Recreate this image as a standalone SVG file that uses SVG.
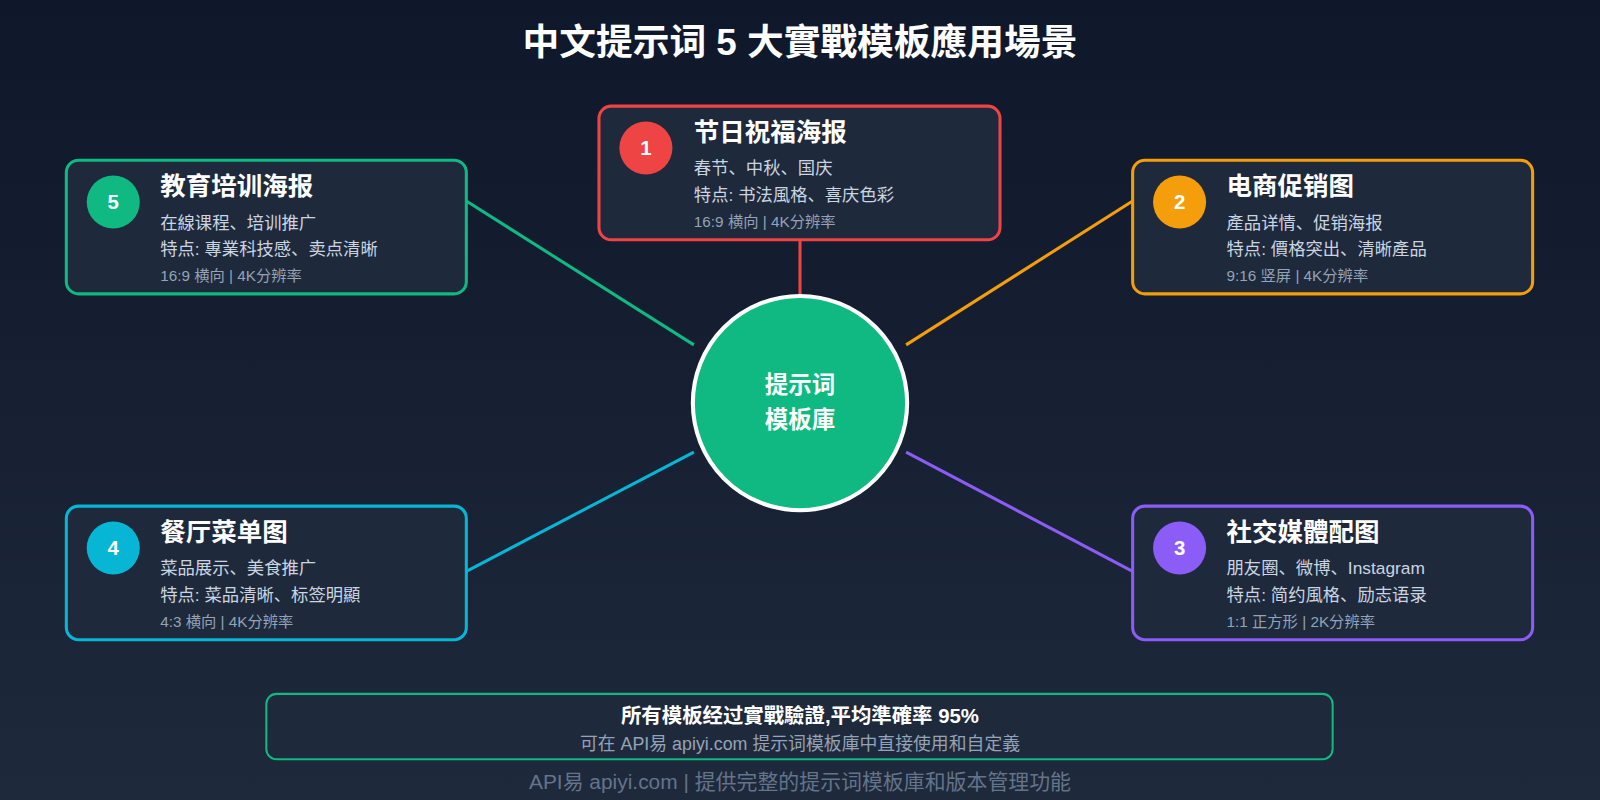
<svg xmlns="http://www.w3.org/2000/svg" width="1600" height="800" viewBox="0 0 1600 800">
<defs>
<linearGradient id="bg" x1="0" y1="0" x2="0" y2="1"><stop offset="0" stop-color="#0f172a"/><stop offset="1" stop-color="#1e293b"/></linearGradient>
<style>
text{font-family:"Liberation Sans","Noto Sans CJK SC",sans-serif}
.card{fill:#1e293b;stroke-width:3}
.t{fill:#fff;font-size:25px;font-weight:bold}
.d{fill:#cbd5e1;font-size:17px}
.s{fill:#94a3b8;font-size:15px}
.n{fill:#fff;font-size:20px;font-weight:bold;text-anchor:middle}
.ln{stroke-width:3;fill:none}
</style>
</defs>
<rect width="1600" height="800" fill="url(#bg)"/>
<g transform="scale(1.0204)">
<text x="784" y="54" text-anchor="middle" fill="#fff" font-size="36" font-weight="bold">中文提示词 5 大實戰模板應用場景</text>
<g id="connectors">
<line class="ln" x1="784" y1="235" x2="784" y2="290" stroke="#ef4444"/>
<line class="ln" x1="457" y1="197" x2="680" y2="338" stroke="#10b981"/>
<line class="ln" x1="1110" y1="197" x2="888" y2="338" stroke="#f59e0b"/>
<line class="ln" x1="457" y1="560" x2="680" y2="443" stroke="#06b6d4"/>
<line class="ln" x1="1110" y1="560" x2="888" y2="443" stroke="#8b5cf6"/>
</g>
<g id="center">
<circle cx="784" cy="395" r="105" fill="#10b981" stroke="#fff" stroke-width="4"/>
<text x="784" y="385" text-anchor="middle" fill="#fff" font-size="23" font-weight="bold">提示词</text>
<text x="784" y="419" text-anchor="middle" fill="#fff" font-size="23" font-weight="bold">模板庫</text>
</g>
<g id="n1">
<rect class="card" x="587" y="104" width="393" height="131" rx="12" stroke="#ef4444"/>
<circle cx="633" cy="145" r="26" fill="#ef4444"/><text class="n" x="633" y="152">1</text>
<text class="t" x="680" y="138">节日祝福海报</text>
<text class="d" x="680" y="171">春节、中秋、国庆</text>
<text class="d" x="680" y="197">特点: 书法風格、喜庆色彩</text>
<text class="s" x="680" y="222">16:9 横向 | 4K分辨率</text>
</g>
<g id="n5">
<rect class="card" x="65" y="157" width="392" height="131" rx="12" stroke="#10b981"/>
<circle cx="111" cy="198" r="26" fill="#10b981"/><text class="n" x="111" y="205">5</text>
<text class="t" x="157" y="191">教育培训海报</text>
<text class="d" x="157" y="224">在線课程、培训推广</text>
<text class="d" x="157" y="250">特点: 專業科技感、卖点清晰</text>
<text class="s" x="157" y="275">16:9 横向 | 4K分辨率</text>
</g>
<g id="n2">
<rect class="card" x="1110" y="157" width="392" height="131" rx="12" stroke="#f59e0b"/>
<circle cx="1156" cy="198" r="26" fill="#f59e0b"/><text class="n" x="1156" y="205">2</text>
<text class="t" x="1202" y="191">电商促销图</text>
<text class="d" x="1202" y="224">產品详情、促销海报</text>
<text class="d" x="1202" y="250">特点: 價格突出、清晰產品</text>
<text class="s" x="1202" y="275">9:16 竖屏 | 4K分辨率</text>
</g>
<g id="n4">
<rect class="card" x="65" y="496" width="392" height="131" rx="12" stroke="#06b6d4"/>
<circle cx="111" cy="537" r="26" fill="#06b6d4"/><text class="n" x="111" y="544">4</text>
<text class="t" x="157" y="530">餐厅菜单图</text>
<text class="d" x="157" y="563">菜品展示、美食推广</text>
<text class="d" x="157" y="589">特点: 菜品清晰、标签明顯</text>
<text class="s" x="157" y="614">4:3 横向 | 4K分辨率</text>
</g>
<g id="n3">
<rect class="card" x="1110" y="496" width="392" height="131" rx="12" stroke="#8b5cf6"/>
<circle cx="1156" cy="537" r="26" fill="#8b5cf6"/><text class="n" x="1156" y="544">3</text>
<text class="t" x="1202" y="530">社交媒體配图</text>
<text class="d" x="1202" y="563">朋友圈、微博、Instagram</text>
<text class="d" x="1202" y="589">特点: 简约風格、励志语录</text>
<text class="s" x="1202" y="614">1:1 正方形 | 2K分辨率</text>
</g>
<g id="summary">
<rect x="261" y="680" width="1045" height="64" rx="10" fill="#1e293b" stroke="#10b981" stroke-width="2"/>
<text x="784" y="709" text-anchor="middle" fill="#fff" font-size="20" font-weight="bold">所有模板经过實戰驗證,平均準確率 95%</text>
<text x="784" y="735" text-anchor="middle" fill="#94a3b8" font-size="17.5">可在 API易 apiyi.com 提示词模板庫中直接使用和自定義</text>
</g>
<text x="784" y="773" text-anchor="middle" fill="#64748b" font-size="20.5">API易 apiyi.com | 提供完整的提示词模板庫和版本管理功能</text>
</g>
</svg>
